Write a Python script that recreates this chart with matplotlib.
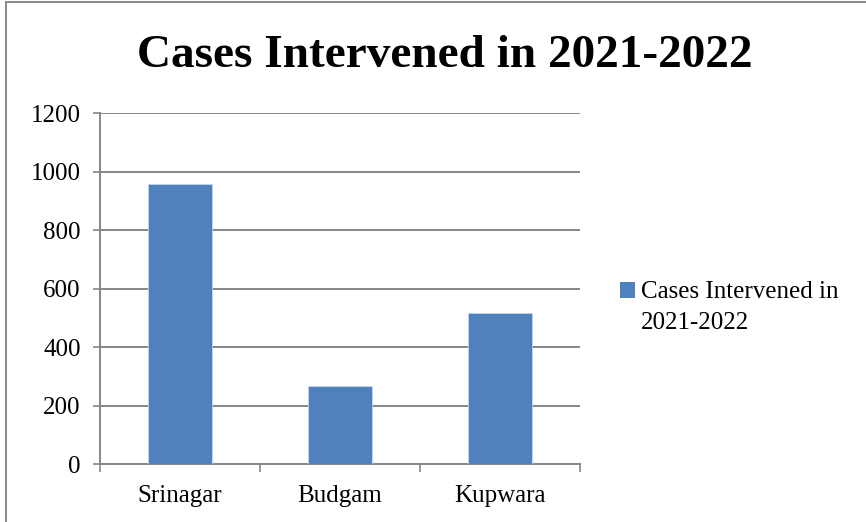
import matplotlib.pyplot as plt
from matplotlib.patches import Rectangle
from matplotlib.container import BarContainer
from matplotlib.legend_handler import HandlerPatch

plt.rcParams['font.family'] = ['Liberation Serif', 'DejaVu Serif']

districts = ['Srinagar', 'Budgam', 'Kupwara']
cases = [958, 265, 517]
series_name = 'Cases Intervened in\n2021-2022'
yticks = [0, 200, 400, 600, 800, 1000, 1200]

fig = plt.figure(figsize=(8.66, 5.22), dpi=100)
ax = fig.add_axes([0.1155, 0.1111, 0.5542, 0.6724])

grid_c = '#868686'
bar_c = '#4f81bd'
ax.bar(range(len(districts)), cases, width=0.4, color=bar_c,
       edgecolor='#c5d4ea', linewidth=0.6, label=series_name, zorder=3)

ax.set_xlim(-0.5, 2.5)
ax.set_ylim(0, 1200)
ax.set_yticks(yticks)
ax.yaxis.grid(True, color=grid_c, linewidth=1.4, zorder=0)
ax.set_xticks(range(len(districts)))
ax.set_xticklabels(districts)
ax.set_xticks([-0.5, 0.5, 1.5, 2.5], minor=True)
ax.tick_params(axis='x', which='major', length=0, labelsize=18, pad=15)
ax.tick_params(axis='x', which='minor', length=6, width=1.2, color=grid_c, direction='out')
ax.tick_params(axis='y', length=5, width=1.2, color=grid_c, labelsize=18, pad=9)
for s in ['top', 'right']:
    ax.spines[s].set_visible(False)
for s in ['left', 'bottom']:
    ax.spines[s].set_color(grid_c)
    ax.spines[s].set_linewidth(1.4)

fig.text(0.514, 0.893, 'Cases Intervened in 2021-2022', ha='center', va='center',
         fontsize=34, fontweight='bold')


# legend marker sits next to the first line, like Excel
def top_patch(legend, orig_handle, xdescent, ydescent, width, height, fontsize):
    return Rectangle((-xdescent, -ydescent + 12.5), width, height,
                     facecolor=bar_c, edgecolor='none')


def keep(legend_handle, orig_handle):
    pass


leg = ax.legend(loc='center left', bbox_to_anchor=(1.036, 0.445), frameon=False,
                fontsize=18, handlelength=0.6, handleheight=0.6, handletextpad=0.25,
                handler_map={BarContainer: HandlerPatch(patch_func=top_patch,
                                                        update_func=keep)})
for t in leg.get_texts():
    t.set_linespacing(1.55)

fig.patches.append(Rectangle((0.007, -0.01), 1.0, 1.006, transform=fig.transFigure,
                             fill=False, edgecolor='#8c8c8c', linewidth=1.5))

fig.savefig('out.png', dpi=100)
